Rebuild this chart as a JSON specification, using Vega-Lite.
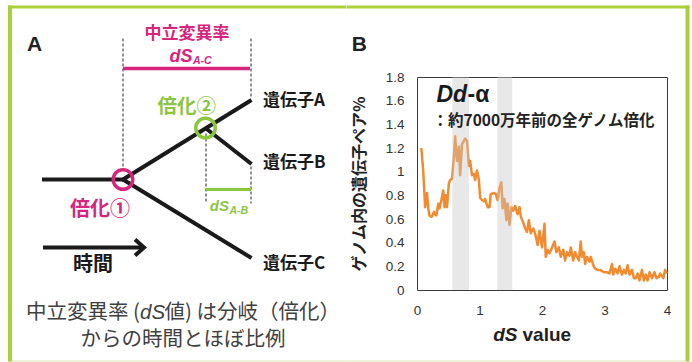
{
  "$schema": "https://vega.github.io/schema/vega-lite/v6.json",
  "background": "white",
  "padding": {"left": 8, "top": 5, "right": 3, "bottom": 1},
  "spacing": 0,
  "config": {"view": {"stroke": null}, "font": "Liberation Sans"},
  "datasets": {
    "frameL": [
      {"x": 8, "x2": 346, "y": 5, "y2": 8},
      {"x": 8, "x2": 12, "y": 5, "y2": 361}
    ],
    "frameLfaint": [
      {"x": 12, "x2": 346, "y": 360, "y2": 361}
    ],
    "dashed": [
      {"x": 123, "y": 38, "x2": 123, "y2": 168},
      {"x": 251, "y": 38, "x2": 251, "y2": 97},
      {"x": 251, "y": 166, "x2": 251, "y2": 203},
      {"x": 206, "y": 133, "x2": 206, "y2": 203}
    ],
    "tree": [
      {"x": 42, "y": 179, "x2": 123, "y2": 179},
      {"x": 123, "y": 179, "x2": 251.5, "y2": 99.5},
      {"x": 123, "y": 179, "x2": 251.5, "y2": 257.5},
      {"x": 206, "y": 128, "x2": 251.5, "y2": 163.5},
      {"x": 43, "y": 247, "x2": 142, "y2": 247}
    ],
    "arrowhead": [
      {"i": 0, "x": 135, "y": 239},
      {"i": 1, "x": 144, "y": 247},
      {"i": 2, "x": 135, "y": 255}
    ],
    "dsAC": [{"x": 123, "y": 68, "x2": 250, "y2": 68}],
    "dsAB": [{"x": 206, "y": 189, "x2": 251, "y2": 189}],
    "dup1": [{"x": 123, "y": 179}],
    "dup2": [{"x": 205.5, "y": 127.5}],
    "txtA": [{"x": 27, "y": 50.5, "t": "A"}],
    "txtMagCenter": [{"x": 187, "y": 38.5, "t": "中立変異率"}],
    "txtMagDS": [{"x": 192.5, "y": 61.7, "t": "dS"}],
    "txtMagSub": [{"x": 193, "y": 63.5, "t": "A-C"}],
    "txtMagDup": [{"x": 70, "y": 215.5, "t": "倍化①"}],
    "txtGrnDup": [{"x": 157.5, "y": 112, "t": "倍化②"}],
    "txtGrnDS": [{"x": 229, "y": 210, "t": "dS"}],
    "txtGrnSub": [{"x": 229.5, "y": 213.5, "t": "A-B"}],
    "txtGenes": [
      {"x": 263, "y": 105.5, "t": "遺伝子A"},
      {"x": 263, "y": 167.5, "t": "遺伝子B"},
      {"x": 263, "y": 268.5, "t": "遺伝子C"}
    ],
    "txtTime": [{"x": 73, "y": 270.5, "t": "時間"}],
    "capLeft": [
      {"x": 26, "y": 318.5, "t": "中立変異率 ("},
      {"x": 164.5, "y": 318.5, "t": "値) は分岐（倍化）"}
    ],
    "capDS": [{"x": 140, "y": 318.5, "t": "dS"}],
    "capCenter": [{"x": 183, "y": 345.5, "t": "からの時間とほぼ比例"}],
    "frameR": [
      {"ds": -1.128, "ds2": 4.36, "pct": 2.379, "pct2": 2.404},
      {"ds": 4.296, "ds2": 4.36, "pct": -0.604, "pct2": 2.404}
    ],
    "frameRfaint": [
      {"ds": -1.128, "ds2": 4.296, "pct": -0.604, "pct2": -0.596}
    ],
    "bands": [
      {"ds": 0.565, "ds2": 0.83, "pct": 0, "pct2": 1.8},
      {"ds": 1.285, "ds2": 1.525, "pct": 0, "pct2": 1.8}
    ],
    "series": [
      {"ds": 0.07, "pct": 1.20}, {"ds": 0.10, "pct": 1.00}, {"ds": 0.13, "pct": 0.70}, {"ds": 0.16, "pct": 0.82},
      {"ds": 0.18, "pct": 0.69}, {"ds": 0.20, "pct": 0.63}, {"ds": 0.22, "pct": 0.62}, {"ds": 0.24, "pct": 0.62},
      {"ds": 0.27, "pct": 0.66}, {"ds": 0.29, "pct": 0.64}, {"ds": 0.31, "pct": 0.63}, {"ds": 0.34, "pct": 0.73},
      {"ds": 0.36, "pct": 0.69}, {"ds": 0.39, "pct": 0.76}, {"ds": 0.42, "pct": 0.84}, {"ds": 0.44, "pct": 0.70},
      {"ds": 0.46, "pct": 0.80}, {"ds": 0.48, "pct": 0.70}, {"ds": 0.51, "pct": 0.90}, {"ds": 0.53, "pct": 0.93},
      {"ds": 0.56, "pct": 0.94}, {"ds": 0.59, "pct": 1.12}, {"ds": 0.61, "pct": 1.30}, {"ds": 0.64, "pct": 1.09},
      {"ds": 0.67, "pct": 1.21}, {"ds": 0.69, "pct": 0.97}, {"ds": 0.72, "pct": 1.23}, {"ds": 0.75, "pct": 1.26},
      {"ds": 0.77, "pct": 1.28}, {"ds": 0.80, "pct": 1.26}, {"ds": 0.83, "pct": 1.05}, {"ds": 0.85, "pct": 1.09},
      {"ds": 0.88, "pct": 0.97}, {"ds": 0.91, "pct": 0.98}, {"ds": 0.93, "pct": 0.93}, {"ds": 0.96, "pct": 1.01},
      {"ds": 0.99, "pct": 0.93}, {"ds": 1.01, "pct": 0.78}, {"ds": 1.04, "pct": 0.76}, {"ds": 1.07, "pct": 0.75},
      {"ds": 1.09, "pct": 0.77}, {"ds": 1.13, "pct": 0.70}, {"ds": 1.16, "pct": 0.70}, {"ds": 1.18, "pct": 0.81},
      {"ds": 1.23, "pct": 0.82}, {"ds": 1.26, "pct": 0.81}, {"ds": 1.29, "pct": 0.76}, {"ds": 1.32, "pct": 0.86},
      {"ds": 1.35, "pct": 0.91}, {"ds": 1.37, "pct": 0.69}, {"ds": 1.40, "pct": 0.77}, {"ds": 1.43, "pct": 0.59},
      {"ds": 1.45, "pct": 0.73}, {"ds": 1.48, "pct": 0.55}, {"ds": 1.51, "pct": 0.70}, {"ds": 1.54, "pct": 0.67},
      {"ds": 1.57, "pct": 0.71}, {"ds": 1.61, "pct": 0.64}, {"ds": 1.64, "pct": 0.70}, {"ds": 1.66, "pct": 0.62},
      {"ds": 1.70, "pct": 0.57}, {"ds": 1.73, "pct": 0.52}, {"ds": 1.76, "pct": 0.49}, {"ds": 1.79, "pct": 0.59},
      {"ds": 1.82, "pct": 0.48}, {"ds": 1.86, "pct": 0.52}, {"ds": 1.89, "pct": 0.48}, {"ds": 1.93, "pct": 0.38},
      {"ds": 1.96, "pct": 0.50}, {"ds": 2.00, "pct": 0.36}, {"ds": 2.04, "pct": 0.56}, {"ds": 2.06, "pct": 0.28},
      {"ds": 2.09, "pct": 0.34}, {"ds": 2.12, "pct": 0.31}, {"ds": 2.16, "pct": 0.36}, {"ds": 2.20, "pct": 0.41},
      {"ds": 2.23, "pct": 0.32}, {"ds": 2.27, "pct": 0.36}, {"ds": 2.30, "pct": 0.28}, {"ds": 2.34, "pct": 0.34},
      {"ds": 2.37, "pct": 0.25}, {"ds": 2.40, "pct": 0.32}, {"ds": 2.44, "pct": 0.29}, {"ds": 2.46, "pct": 0.36},
      {"ds": 2.50, "pct": 0.25}, {"ds": 2.53, "pct": 0.32}, {"ds": 2.56, "pct": 0.28}, {"ds": 2.59, "pct": 0.25},
      {"ds": 2.62, "pct": 0.41}, {"ds": 2.64, "pct": 0.28}, {"ds": 2.67, "pct": 0.32}, {"ds": 2.69, "pct": 0.22},
      {"ds": 2.72, "pct": 0.28}, {"ds": 2.76, "pct": 0.24}, {"ds": 2.78, "pct": 0.28}, {"ds": 2.82, "pct": 0.21},
      {"ds": 2.85, "pct": 0.18}, {"ds": 2.89, "pct": 0.17}, {"ds": 2.93, "pct": 0.17}, {"ds": 2.99, "pct": 0.15},
      {"ds": 3.04, "pct": 0.15}, {"ds": 3.08, "pct": 0.14}, {"ds": 3.12, "pct": 0.22}, {"ds": 3.14, "pct": 0.13},
      {"ds": 3.17, "pct": 0.18}, {"ds": 3.21, "pct": 0.14}, {"ds": 3.24, "pct": 0.20}, {"ds": 3.28, "pct": 0.13},
      {"ds": 3.31, "pct": 0.17}, {"ds": 3.34, "pct": 0.14}, {"ds": 3.37, "pct": 0.21}, {"ds": 3.40, "pct": 0.13},
      {"ds": 3.44, "pct": 0.17}, {"ds": 3.47, "pct": 0.10}, {"ds": 3.50, "pct": 0.10}, {"ds": 3.53, "pct": 0.14},
      {"ds": 3.56, "pct": 0.08}, {"ds": 3.60, "pct": 0.17}, {"ds": 3.63, "pct": 0.08}, {"ds": 3.66, "pct": 0.13},
      {"ds": 3.69, "pct": 0.08}, {"ds": 3.72, "pct": 0.15}, {"ds": 3.76, "pct": 0.10}, {"ds": 3.80, "pct": 0.15},
      {"ds": 3.83, "pct": 0.10}, {"ds": 3.87, "pct": 0.11}, {"ds": 3.89, "pct": 0.14}, {"ds": 3.94, "pct": 0.10},
      {"ds": 3.97, "pct": 0.17}, {"ds": 4.00, "pct": 0.14}
    ],
    "txtB": [{"ds": -1.045, "pct": 2.02, "t": "B"}],
    "txtDd": [{"ds": 0.312, "pct": 1.587, "t": "Dd"}],
    "txtAlpha": [{"ds": 0.808, "pct": 1.587, "t": "-α"}],
    "txtNote": [{"ds": 0.248, "pct": 1.382, "t": "：約7000万年前の全ゲノム倍化"}],
    "txtXds": [{"ds": 1.608, "pct": -0.435, "t": "dS"}],
    "txtXval": [{"ds": 1.688, "pct": -0.435, "t": "value"}]
  },
  "hconcat": [
    {
      "width": 338,
      "height": 213,
      "view": {"stroke": null},
      "encoding": {
        "x": {"field": "x", "type": "quantitative", "scale": {"domain": [8, 346], "nice": false, "zero": false}, "axis": null},
        "y": {"field": "y", "type": "quantitative", "scale": {"domain": [76.5, 289.5], "nice": false, "zero": false, "reverse": true}, "axis": null}
      },
      "layer": [
        {"data": {"name": "frameL"}, "mark": {"type": "rect", "color": "#a9cf3a"}, "encoding": {"x2": {"field": "x2"}, "y2": {"field": "y2"}}},
        {"data": {"name": "frameLfaint"}, "mark": {"type": "rect", "color": "#d9eab2"}, "encoding": {"x2": {"field": "x2"}, "y2": {"field": "y2"}}},
        {"data": {"name": "dashed"}, "mark": {"type": "rule", "color": "#222222", "strokeWidth": 1, "strokeDash": [3, 2]}, "encoding": {"x2": {"field": "x2"}, "y2": {"field": "y2"}}},
        {"data": {"name": "tree"}, "mark": {"type": "rule", "color": "#1a1a1a", "strokeWidth": 4}, "encoding": {"x2": {"field": "x2"}, "y2": {"field": "y2"}}},
        {"data": {"name": "arrowhead"}, "mark": {"type": "line", "color": "#1a1a1a", "strokeWidth": 4, "strokeJoin": "miter"}, "encoding": {"order": {"field": "i", "type": "quantitative"}}},
        {"data": {"name": "dsAC"}, "mark": {"type": "rule", "color": "#d6257c", "strokeWidth": 3.5}, "encoding": {"x2": {"field": "x2"}, "y2": {"field": "y2"}}},
        {"data": {"name": "dsAB"}, "mark": {"type": "rule", "color": "#8cc63f", "strokeWidth": 3}, "encoding": {"x2": {"field": "x2"}, "y2": {"field": "y2"}}},
        {"data": {"name": "dup1"}, "mark": {"type": "point", "shape": "circle", "size": 380, "filled": false, "strokeWidth": 3.5, "color": "#d6257c", "opacity": 1}},
        {"data": {"name": "dup2"}, "mark": {"type": "point", "shape": "circle", "size": 380, "filled": false, "strokeWidth": 3.5, "color": "#8cc63f", "opacity": 1}},
        {"data": {"name": "txtA"}, "mark": {"type": "text", "font": "Liberation Sans", "fontSize": 21, "fontWeight": "bold", "color": "#222222", "align": "left", "baseline": "alphabetic"}, "encoding": {"text": {"field": "t"}}},
        {"data": {"name": "txtMagCenter"}, "mark": {"type": "text", "font": "Noto Sans CJK JP", "fontSize": 17, "fontWeight": "bold", "color": "#d6257c", "align": "center", "baseline": "alphabetic"}, "encoding": {"text": {"field": "t"}}},
        {"data": {"name": "txtMagDS"}, "mark": {"type": "text", "font": "Liberation Sans", "fontSize": 18, "fontWeight": "bold", "fontStyle": "italic", "color": "#d6257c", "align": "right", "baseline": "alphabetic"}, "encoding": {"text": {"field": "t"}}},
        {"data": {"name": "txtMagSub"}, "mark": {"type": "text", "font": "Liberation Sans", "fontSize": 10.5, "fontWeight": "bold", "fontStyle": "italic", "color": "#d6257c", "align": "left", "baseline": "alphabetic"}, "encoding": {"text": {"field": "t"}}},
        {"data": {"name": "txtMagDup"}, "mark": {"type": "text", "font": "Noto Sans CJK JP", "fontSize": 20, "fontWeight": "bold", "color": "#d6257c", "align": "left", "baseline": "alphabetic"}, "encoding": {"text": {"field": "t"}}},
        {"data": {"name": "txtGrnDup"}, "mark": {"type": "text", "font": "Noto Sans CJK JP", "fontSize": 19.5, "fontWeight": "bold", "color": "#8cc63f", "align": "left", "baseline": "alphabetic"}, "encoding": {"text": {"field": "t"}}},
        {"data": {"name": "txtGrnDS"}, "mark": {"type": "text", "font": "Liberation Sans", "fontSize": 15, "fontWeight": "bold", "fontStyle": "italic", "color": "#8cc63f", "align": "right", "baseline": "alphabetic"}, "encoding": {"text": {"field": "t"}}},
        {"data": {"name": "txtGrnSub"}, "mark": {"type": "text", "font": "Liberation Sans", "fontSize": 10.5, "fontWeight": "bold", "fontStyle": "italic", "color": "#8cc63f", "align": "left", "baseline": "alphabetic"}, "encoding": {"text": {"field": "t"}}},
        {"data": {"name": "txtGenes"}, "mark": {"type": "text", "font": "Noto Sans CJK JP", "fontSize": 17, "fontWeight": "bold", "color": "#1a1a1a", "align": "left", "baseline": "alphabetic"}, "encoding": {"text": {"field": "t"}}},
        {"data": {"name": "txtTime"}, "mark": {"type": "text", "font": "Noto Sans CJK JP", "fontSize": 20, "fontWeight": "bold", "color": "#1a1a1a", "align": "left", "baseline": "alphabetic"}, "encoding": {"text": {"field": "t"}}},
        {"data": {"name": "capLeft"}, "mark": {"type": "text", "font": "Noto Sans CJK JP", "fontSize": 20.5, "color": "#404040", "align": "left", "baseline": "alphabetic"}, "encoding": {"text": {"field": "t"}}},
        {"data": {"name": "capDS"}, "mark": {"type": "text", "font": "Liberation Sans", "fontSize": 20.5, "fontStyle": "italic", "color": "#404040", "align": "left", "baseline": "alphabetic"}, "encoding": {"text": {"field": "t"}}},
        {"data": {"name": "capCenter"}, "mark": {"type": "text", "font": "Noto Sans CJK JP", "fontSize": 20.5, "color": "#404040", "align": "center", "baseline": "alphabetic"}, "encoding": {"text": {"field": "t"}}}
      ]
    },
    {
      "width": 250,
      "height": 213,
      "view": {"stroke": "#3a3a3a", "strokeWidth": 1},
      "encoding": {
        "x": {
          "field": "ds", "type": "quantitative",
          "scale": {"domain": [0, 4], "nice": false, "zero": false},
          "axis": {"values": [0, 1, 2, 3, 4], "format": "~g", "title": null, "domain": false, "ticks": false, "grid": false, "labelFont": "Liberation Sans", "labelFontSize": 13.5, "labelColor": "#333333", "labelPadding": 13, "labelFlush": false, "labelOverlap": false}
        },
        "y": {
          "field": "pct", "type": "quantitative",
          "scale": {"domain": [0, 1.8], "nice": false, "zero": false},
          "axis": {"values": [0, 0.2, 0.4, 0.6, 0.8, 1, 1.2, 1.4, 1.6, 1.8], "format": "~g", "title": "ゲノム内の遺伝子ペア%", "titleFont": "Noto Sans CJK JP", "titleFontSize": 16, "titleFontWeight": "bold", "titleColor": "#222222", "titlePadding": 18, "domain": false, "ticks": false, "grid": false, "labelFont": "Liberation Sans", "labelFontSize": 13.5, "labelColor": "#333333", "labelPadding": 13, "labelFlush": false, "labelOverlap": false}
        }
      },
      "layer": [
        {"data": {"name": "frameR"}, "mark": {"type": "rect", "color": "#a9cf3a"}, "encoding": {"x2": {"field": "ds2"}, "y2": {"field": "pct2"}}},
        {"data": {"name": "frameRfaint"}, "mark": {"type": "rect", "color": "#d9eab2"}, "encoding": {"x2": {"field": "ds2"}, "y2": {"field": "pct2"}}},
        {"data": {"name": "series"}, "mark": {"type": "line", "color": "#f28a30", "strokeWidth": 2.5, "strokeJoin": "round"}},
        {"data": {"name": "bands"}, "mark": {"type": "rect", "color": "#c5c8c6", "opacity": 0.42}, "encoding": {"x2": {"field": "ds2"}, "y2": {"field": "pct2"}}},
        {"data": {"name": "txtB"}, "mark": {"type": "text", "font": "Liberation Sans", "fontSize": 21, "fontWeight": "bold", "color": "#222222", "align": "left", "baseline": "alphabetic"}, "encoding": {"text": {"field": "t"}}},
        {"data": {"name": "txtDd"}, "mark": {"type": "text", "font": "Liberation Sans", "fontSize": 23, "fontWeight": "bold", "fontStyle": "italic", "color": "#1a1a1a", "align": "left", "baseline": "alphabetic"}, "encoding": {"text": {"field": "t"}}},
        {"data": {"name": "txtAlpha"}, "mark": {"type": "text", "font": "Liberation Sans", "fontSize": 23, "fontWeight": "bold", "color": "#1a1a1a", "align": "left", "baseline": "alphabetic"}, "encoding": {"text": {"field": "t"}}},
        {"data": {"name": "txtNote"}, "mark": {"type": "text", "font": "Noto Sans CJK JP", "fontSize": 15.5, "fontWeight": "bold", "color": "#222222", "align": "left", "baseline": "alphabetic"}, "encoding": {"text": {"field": "t"}}},
        {"data": {"name": "txtXds"}, "mark": {"type": "text", "font": "Liberation Sans", "fontSize": 19, "fontWeight": "bold", "fontStyle": "italic", "color": "#222222", "align": "right", "baseline": "alphabetic"}, "encoding": {"text": {"field": "t"}}},
        {"data": {"name": "txtXval"}, "mark": {"type": "text", "font": "Liberation Sans", "fontSize": 19, "fontWeight": "bold", "color": "#222222", "align": "left", "baseline": "alphabetic"}, "encoding": {"text": {"field": "t"}}}
      ]
    }
  ]
}
